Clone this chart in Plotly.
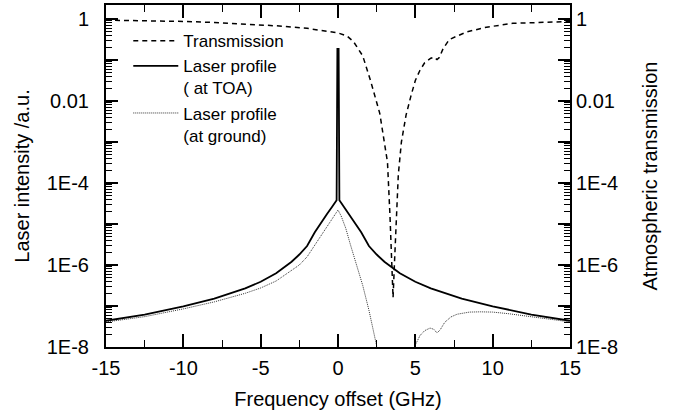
import plotly.graph_objects as go

# ---- data ----
x_trans = [-15, -12, -10, -8, -6, -4, -2, -1, 0, 0.6, 1.0, 1.6, 2.1, 2.7, 3.05, 3.2, 3.36, 3.49, 3.56,
           3.65, 3.78, 3.9, 4.1, 4.4, 4.7, 5.0, 5.3, 5.6, 6.0, 6.2, 6.4, 6.55, 6.8, 7.2, 8.3, 9.6, 11.3, 13, 15]
y_trans = [0.933, 0.90, 0.87, 0.82, 0.76, 0.68, 0.59, 0.525, 0.457, 0.38, 0.28, 0.126, 0.0316, 5.0e-3, 7.9e-4,
           3.2e-4, 1.6e-5, 1.1e-6, 1.6e-7, 1.1e-6, 1.6e-5, 1.6e-4, 1.0e-3, 4.5e-3, 0.0126, 0.0316, 0.056,
           0.085, 0.11, 0.117, 0.102, 0.115, 0.19, 0.316, 0.48, 0.63, 0.78, 0.83, 0.87]

x_toa = [-15, -12.5, -10, -8, -6, -5, -4, -3, -2.5, -2, -1.5, -1, -0.7, -0.4, -0.2, -0.09, -0.04, 0.04,
         0.09, 0.2, 0.4, 0.7, 1, 1.5, 2, 2.5, 3, 4, 5, 6, 8, 10, 12.5, 15]
y_toa = [4.37e-8, 6.17e-8, 9.8e-8, 1.51e-7, 2.69e-7, 3.89e-7, 6.3e-7, 1.2e-6, 1.8e-6, 2.9e-6, 6.3e-6,
         1.26e-5, 1.78e-5, 2.57e-5, 3.31e-5, 3.8e-5, 0.186, 0.186,
         3.8e-5, 3.31e-5, 2.57e-5, 1.78e-5, 1.26e-5, 6.3e-6, 2.9e-6, 1.8e-6, 1.2e-6, 6.3e-7, 3.89e-7,
         2.69e-7, 1.51e-7, 9.8e-8, 6.17e-8, 4.37e-8]

x_gnd = [-15, -12.5, -10, -8, -6, -5, -4, -3, -2.5, -2, -1.5, -1, -0.7, -0.4, -0.2, 0, 0.2, 0.5, 0.8,
         1.0, 1.3, 1.6, 2.0, 2.3, 2.6, 3.8, 4.9, 5.0, 5.3, 5.6, 5.95, 6.2, 6.4, 6.6, 6.9, 7.3, 7.7, 8.5,
         9.2, 10, 11, 12.5, 14, 15]
y_gnd = [4.07e-8, 5.5e-8, 8.5e-8, 1.26e-7, 2.04e-7, 2.75e-7, 4.07e-7, 7.2e-7, 1.0e-6, 1.58e-6, 3.0e-6,
         6.0e-6, 8.9e-6, 1.3e-5, 1.7e-5, 2.19e-5, 1.58e-5, 7.9e-6, 3.16e-6, 1.78e-6, 7.9e-7, 3.16e-7,
         7.9e-8, 2.5e-8, 7.1e-9, None, 7.9e-9, 1.12e-8, 1.9e-8, 2.5e-8, 2.9e-8, 2.7e-8, 2.2e-8, 2.6e-8,
         4.0e-8, 5.4e-8, 6.3e-8, 7.1e-8, 7.2e-8, 7.1e-8, 6.5e-8, 5.5e-8, 4.7e-8, 4.1e-8]

x_ticks = [-15, -10, -5, 0, 5, 10, 15]
x_ticktext = ["-15", "-10", "-5", "0", "5", "10", "15"]
x_minor = [-12.5, -7.5, -2.5, 2.5, 7.5, 12.5]
y_ticks = [1e-8, 1e-7, 1e-6, 1e-5, 1e-4, 1e-3, 1e-2, 1e-1, 1]
y_ticktext = ["1E-8", "", "1E-6", "", "1E-4", "", "0.01", "", "1"]

y_minor = []
for dec in y_ticks[:-1]:
    for m in range(2, 10):
        y_minor.append(dec * m)

FONT = "Liberation Sans, Arial, sans-serif"

fig = go.Figure()
fig.add_trace(go.Scatter(x=x_trans, y=y_trans, mode="lines", name="Transmission",
                         line=dict(color="black", width=1.5, dash="5px,4px"), yaxis="y2"))
fig.add_trace(go.Scatter(x=x_toa, y=y_toa, mode="lines", name="Laser profile<br>( at TOA)",
                         line=dict(color="black", width=1.8)))
fig.add_trace(go.Scatter(x=x_gnd, y=y_gnd, mode="lines", name="Laser profile<br>(at ground)",
                         connectgaps=False,
                         line=dict(color="#333333", width=1, dash="1px,1px")))

yax_common = dict(
    type="log", range=[-8, 0.34], tickmode="array", tickvals=y_ticks, ticktext=y_ticktext,
    ticks="inside", ticklen=12, tickwidth=1.5, tickcolor="black",
    showline=True, linewidth=2, linecolor="black", showgrid=False, zeroline=False,
    tickfont=dict(size=20, color="black", family=FONT), automargin=False,
    minor=dict(tickmode="array", tickvals=y_minor, ticks="inside", ticklen=6, tickwidth=1.2,
               tickcolor="black", showgrid=False),
)

fig.update_layout(
    width=675, height=414,
    margin=dict(l=106, r=105, t=5, b=67),
    plot_bgcolor="white", paper_bgcolor="white",
    font=dict(family=FONT, color="black", size=20),
    showlegend=True,
    legend=dict(x=0.048, y=0.947, xanchor="left", yanchor="top", bgcolor="rgba(0,0,0,0)",
                font=dict(size=17, family=FONT), itemwidth=45, valign="top",
                tracegroupgap=0, borderwidth=0),
    xaxis=dict(range=[-15, 15], tickmode="array", tickvals=x_ticks, ticktext=x_ticktext,
               ticks="inside", ticklen=13, tickwidth=1.5, tickcolor="black",
               showline=True, linewidth=2, linecolor="black", mirror="ticks",
               showgrid=False, zeroline=False, automargin=False,
               tickfont=dict(size=20, color="black", family=FONT),
               minor=dict(tickmode="array", tickvals=x_minor, ticks="inside", ticklen=7,
                          tickwidth=1.2, tickcolor="black", showgrid=False),
               title=dict(text="Frequency offset (GHz)", font=dict(size=20), standoff=14),
               ticklabelstandoff=2),
    yaxis=dict(**yax_common, side="left", ticklabelstandoff=11,
               title=dict(text="Laser intensity /a.u.", font=dict(size=20), standoff=12)),
    yaxis2=dict(**yax_common, side="right", overlaying="y", anchor="x", ticklabelstandoff=0,
                title=dict(text="Atmospheric transmission", font=dict(size=20), standoff=26)),
)

fig.write_html("out.html", config={"displayModeBar": False},
               post_script="document.body.style.margin='0px';")
